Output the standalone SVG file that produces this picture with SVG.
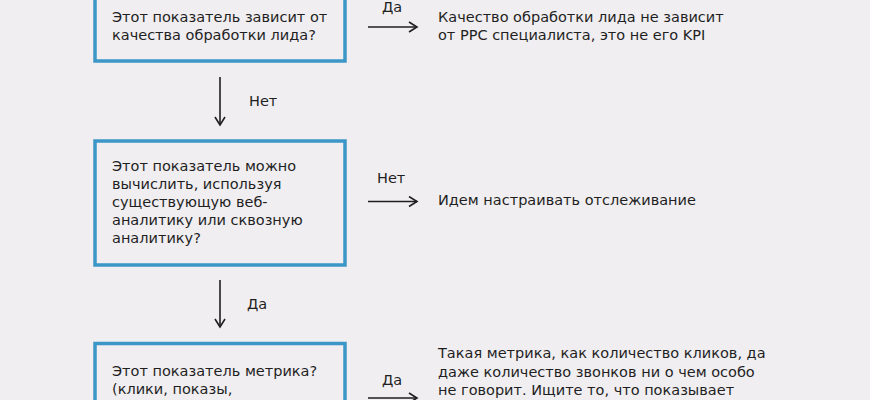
<svg xmlns="http://www.w3.org/2000/svg" width="870" height="400" viewBox="0 0 870 400">
<defs>
<style>
.bg{fill:#f0eef1}
.box{fill:none;stroke:#3d96c8;stroke-width:3.5}
text{font-family:"DejaVu Sans","Noto Sans",sans-serif;font-size:14.5px;fill:#1f1f1f}
.ln{stroke:#1f1f1f;stroke-width:1.6;fill:none}
</style>
<marker id="ah" viewBox="0 0 12 12" refX="10" refY="6" markerWidth="12" markerHeight="12" markerUnits="userSpaceOnUse" orient="auto">
<path d="M2,1 L10,6 L2,11" fill="none" stroke="#1f1f1f" stroke-width="1.6"/>
</marker>
</defs>
<rect class="bg" x="0" y="0" width="870" height="400"/>
<g id="q1">
<rect class="box" x="95" y="-20" width="250" height="81"/>
<text x="112" y="22">Этот показатель зависит от</text>
<text x="112" y="40">качества обработки лида?</text>
</g>
<g id="r1">
<text x="438" y="22">Качество обработки лида не зависит</text>
<text x="438" y="40">от PPC специалиста, это не его KPI</text>
</g>
<g id="q2">
<rect class="box" x="95" y="141" width="250" height="124"/>
<text x="112" y="171">Этот показатель можно</text>
<text x="112" y="189">вычислить, используя</text>
<text x="112" y="207">существующую веб-</text>
<text x="112" y="225">аналитику или сквозную</text>
<text x="112" y="243">аналитику?</text>
</g>
<g id="r2">
<text x="438" y="205">Идем настраивать отслеживание</text>
</g>
<g id="q3">
<rect class="box" x="95" y="343.5" width="250" height="80"/>
<text x="112" y="376">Этот показатель метрика?</text>
<text x="112" y="394">(клики, показы,</text>
</g>
<g id="r3">
<text x="438" y="358">Такая метрика, как количество кликов, да</text>
<text x="438" y="377">даже количество звонков ни о чем особо</text>
<text x="438" y="395">не говорит. Ищите то, что показывает</text>
</g>
<g id="connectors">
<line class="ln" x1="368" y1="27" x2="417" y2="27" marker-end="url(#ah)"/>
<text x="382" y="12">Да</text>
<line class="ln" x1="220" y1="77" x2="220" y2="125" marker-end="url(#ah)"/>
<text x="249" y="106">Нет</text>
<line class="ln" x1="368" y1="201.5" x2="417" y2="201.5" marker-end="url(#ah)"/>
<text x="377" y="183">Нет</text>
<line class="ln" x1="220" y1="280" x2="220" y2="327" marker-end="url(#ah)"/>
<text x="247" y="309">Да</text>
<line class="ln" x1="368" y1="398" x2="417" y2="398" marker-end="url(#ah)"/>
<text x="382" y="385">Да</text>
</g>
</svg>
